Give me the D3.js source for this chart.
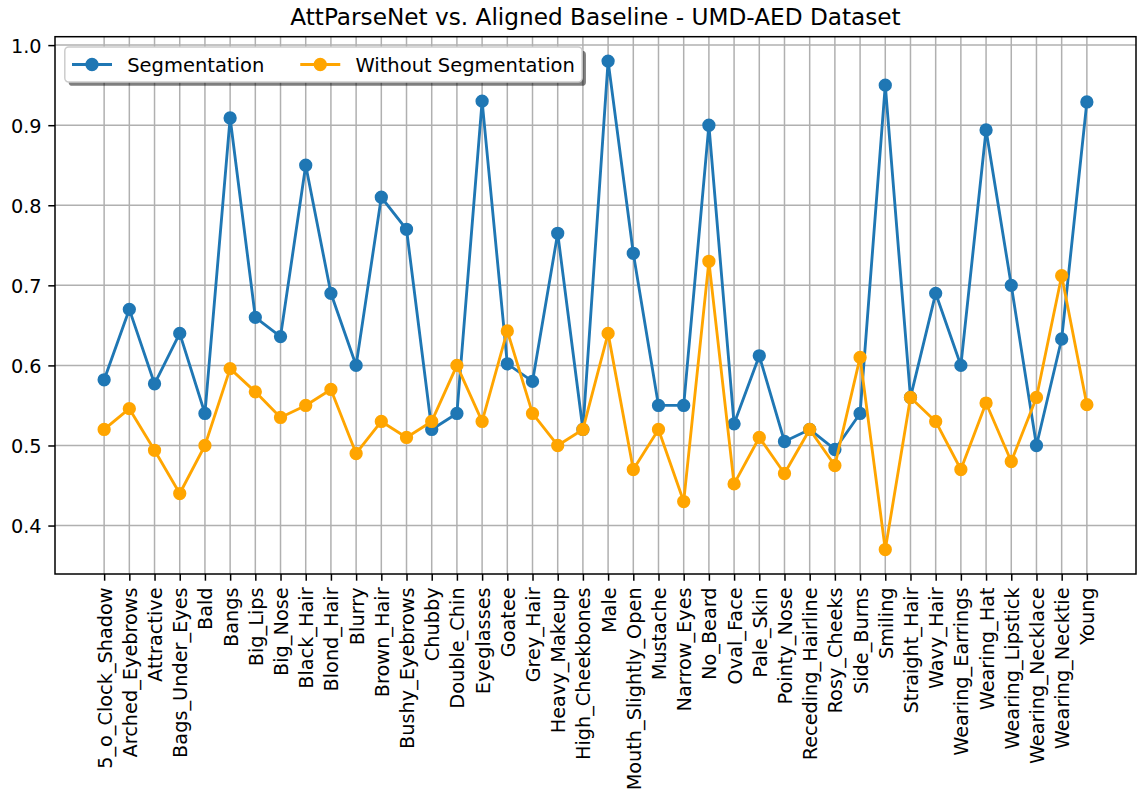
<!DOCTYPE html>
<html>
<head>
<meta charset="utf-8">
<script src="https://cdn.jsdelivr.net/npm/d3@7"></script>
<style>
  html, body { margin: 0; padding: 0; background: #fff; }
  svg { display: block; font-family: "DejaVu Sans", sans-serif; }
</style>
</head>
<body>
<svg id="chart" width="1138" height="795"></svg>
<script>
// Facial attributes on the x axis
const attributes = [
  "5_o_Clock_Shadow", "Arched_Eyebrows", "Attractive", "Bags_Under_Eyes", "Bald",
  "Bangs", "Big_Lips", "Big_Nose", "Black_Hair", "Blond_Hair",
  "Blurry", "Brown_Hair", "Bushy_Eyebrows", "Chubby", "Double_Chin",
  "Eyeglasses", "Goatee", "Grey_Hair", "Heavy_Makeup", "High_Cheekbones",
  "Male", "Mouth_Slightly_Open", "Mustache", "Narrow_Eyes", "No_Beard",
  "Oval_Face", "Pale_Skin", "Pointy_Nose", "Receding_Hairline", "Rosy_Cheeks",
  "Side_Burns", "Smiling", "Straight_Hair", "Wavy_Hair", "Wearing_Earrings",
  "Wearing_Hat", "Wearing_Lipstick", "Wearing_Necklace", "Wearing_Necktie", "Young"
];

// Accuracy per attribute with segmentation (AttParseNet)
const segmentation = [
  0.582, 0.670, 0.577, 0.640, 0.540,
  0.909, 0.660, 0.636, 0.850, 0.690,
  0.600, 0.810, 0.770, 0.520, 0.540,
  0.930, 0.602, 0.580, 0.765, 0.520,
  0.980, 0.740, 0.550, 0.550, 0.900,
  0.527, 0.612, 0.505, 0.520, 0.495,
  0.540, 0.950, 0.560, 0.690, 0.600,
  0.894, 0.700, 0.500, 0.633, 0.929
];

// Accuracy per attribute for the aligned baseline
const withoutSegmentation = [
  0.520, 0.546, 0.494, 0.440, 0.500,
  0.596, 0.567, 0.535, 0.550, 0.570,
  0.490, 0.530, 0.510, 0.530, 0.600,
  0.530, 0.643, 0.540, 0.500, 0.520,
  0.640, 0.470, 0.520, 0.430, 0.730,
  0.452, 0.510, 0.465, 0.520, 0.475,
  0.610, 0.370, 0.560, 0.530, 0.470,
  0.553, 0.480, 0.560, 0.712, 0.551
];

const yTicks = [0.4, 0.5, 0.6, 0.7, 0.8, 0.9, 1.0];
const seriesNames = ["Segmentation", "Without Segmentation"];
const seriesColors = ["#1f77b4", "#ffa500"];

const svg = d3.select("#chart");
const plot = { left: 55, right: 1136, top: 36.7, bottom: 574 };
const fontPx = 19.3;
const legendFontPx = 19.5;

// Axis ranges padded by 5% of the data span on each side
const n = attributes.length;
const xPad = (n - 1) * 0.05;
const x = d3.scaleLinear().domain([-xPad, n - 1 + xPad]).range([plot.left, plot.right]);
const allVals = segmentation.concat(withoutSegmentation);
const yMin = d3.min(allVals), yMax = d3.max(allVals);
const yPad = (yMax - yMin) * 0.05;
const y = d3.scaleLinear().domain([yMin - yPad, yMax + yPad]).range([plot.bottom, plot.top]);

// Grid lines
const grid = svg.append("g").attr("stroke", "#b0b0b0").attr("stroke-width", 1.5);
grid.selectAll("line.gx").data(d3.range(n)).join("line")
  .attr("x1", d => x(d)).attr("x2", d => x(d))
  .attr("y1", plot.top).attr("y2", plot.bottom);
grid.selectAll("line.gy").data(yTicks).join("line")
  .attr("x1", plot.left).attr("x2", plot.right)
  .attr("y1", d => y(d)).attr("y2", d => y(d));

// Axes
const xAxis = d3.axisBottom(x)
  .tickValues(d3.range(n))
  .tickFormat(i => attributes[i])
  .tickSize(6.7).tickPadding(6.7).tickSizeOuter(0);
const gx = svg.append("g").attr("transform", `translate(0,${plot.bottom})`).call(xAxis);
gx.select(".domain").remove();
gx.selectAll(".tick line").attr("stroke", "#000").attr("stroke-width", 1.5);
gx.selectAll(".tick text")
  .attr("font-family", "DejaVu Sans").attr("font-size", fontPx).attr("fill", "#000")
  .attr("text-anchor", "end")
  .attr("transform", "rotate(-90)")
  .attr("x", -13.4).attr("y", 0).attr("dy", "0.36em");

const yAxis = d3.axisLeft(y)
  .tickValues(yTicks)
  .tickFormat(d3.format(".1f"))
  .tickSize(6.7).tickPadding(6.7).tickSizeOuter(0);
const gy = svg.append("g").attr("transform", `translate(${plot.left},0)`).call(yAxis);
gy.select(".domain").remove();
gy.selectAll(".tick line").attr("stroke", "#000").attr("stroke-width", 1.5);
gy.selectAll(".tick text")
  .attr("font-family", "DejaVu Sans").attr("font-size", fontPx).attr("fill", "#000")
  .attr("dy", "0.36em");

// Series lines and markers
const seriesData = [segmentation, withoutSegmentation];
const line = d3.line().x((d, i) => x(i)).y(d => y(d));
seriesData.forEach((vals, s) => {
  const g = svg.append("g");
  g.append("path").datum(vals)
    .attr("d", line).attr("fill", "none")
    .attr("stroke", seriesColors[s]).attr("stroke-width", 2.85)
    .attr("stroke-linejoin", "round").attr("stroke-linecap", "square");
  g.selectAll("circle").data(vals).join("circle")
    .attr("cx", (d, i) => x(i)).attr("cy", d => y(d))
    .attr("r", 5.7).attr("fill", seriesColors[s])
    .attr("stroke", seriesColors[s]).attr("stroke-width", 1.9);
});

// Plot frame
svg.append("rect")
  .attr("x", plot.left).attr("y", plot.top)
  .attr("width", plot.right - plot.left).attr("height", plot.bottom - plot.top)
  .attr("fill", "none").attr("stroke", "#000").attr("stroke-width", 1.5);

// Title
svg.append("text")
  .attr("x", (plot.left + plot.right) / 2).attr("y", 25)
  .attr("text-anchor", "middle")
  .attr("font-size", 23.2).attr("fill", "#000")
  .text("AttParseNet vs. Aligned Baseline - UMD-AED Dataset");

// Legend (two columns, shadowed rounded box)
const legend = svg.append("g");
const lg = { x: 64.8, y: 47, h: 35 };
const handleLen = 40, textPad = 15.2, colGap = 36, borderPad = 7.2;
const measure = svg.append("text").attr("font-size", legendFontPx).attr("visibility", "hidden");
const widths = seriesNames.map(t => { measure.text(t); return measure.node().getComputedTextLength(); });
measure.remove();
let cursor = lg.x + borderPad;
const items = seriesNames.map((name, s) => {
  const it = { x0: cursor, name, color: seriesColors[s] };
  cursor += handleLen + textPad + widths[s] + (s < seriesNames.length - 1 ? colGap : 0);
  return it;
});
lg.w = cursor + borderPad - lg.x;
legend.append("rect")
  .attr("x", lg.x + 3.8).attr("y", lg.y + 3.8)
  .attr("width", lg.w).attr("height", lg.h).attr("rx", 3.9)
  .attr("fill", "#000").attr("fill-opacity", 0.5);
legend.append("rect")
  .attr("x", lg.x).attr("y", lg.y)
  .attr("width", lg.w).attr("height", lg.h).attr("rx", 3.9)
  .attr("fill", "#fff").attr("stroke", "#cccccc").attr("stroke-width", 1.5);
const cy = lg.y + lg.h / 2;
items.forEach(it => {
  legend.append("line")
    .attr("x1", it.x0).attr("x2", it.x0 + handleLen)
    .attr("y1", cy).attr("y2", cy)
    .attr("stroke", it.color).attr("stroke-width", 2.85);
  legend.append("circle")
    .attr("cx", it.x0 + handleLen / 2).attr("cy", cy).attr("r", 5.7)
    .attr("fill", it.color).attr("stroke", it.color).attr("stroke-width", 1.9);
  legend.append("text")
    .attr("x", it.x0 + handleLen + textPad).attr("y", cy).attr("dy", "0.36em")
    .attr("font-size", legendFontPx).attr("fill", "#000")
    .text(it.name);
});
</script>
</body>
</html>
